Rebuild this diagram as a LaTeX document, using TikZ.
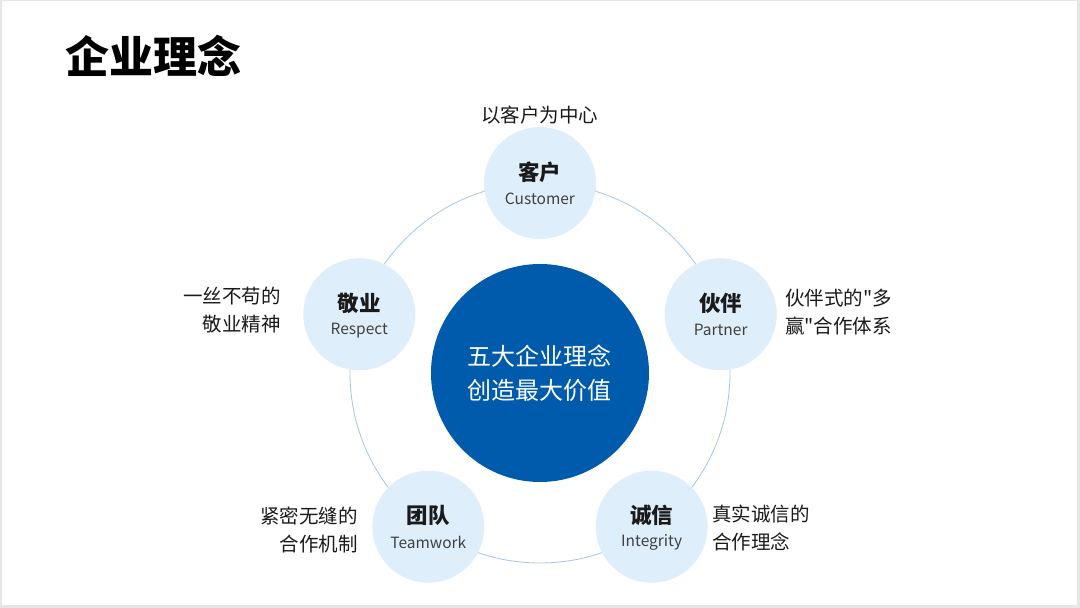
\documentclass[tikz,border=0pt]{standalone}
\usepackage{fontspec}
\setmainfont{Noto Sans CJK SC}[Ligatures=TeXOff]
\usetikzlibrary{positioning}
\definecolor{frame}{HTML}{E6E6E6}
\definecolor{core}{HTML}{005BAC}
\definecolor{petal}{HTML}{DEEEFB}
\definecolor{ring}{HTML}{A4C6E6}
\definecolor{ink}{HTML}{1A1A1A}
\definecolor{note}{HTML}{404040}

\begin{document}
\begin{tikzpicture}[x=1pt, y=1pt,
  line join=round,
  % 中心圆与五个理念圆
  corebox/.style={circle, fill=core, minimum size=218pt, inner sep=0pt,
    text=white, align=center, font=\fontsize{24}{34}\selectfont},
  petalbox/.style={circle, fill=petal, minimum size=112pt, inner sep=0pt},
  cnlbl/.style={font=\fontsize{21.5}{21.5}\selectfont\bfseries, text=ink, inner sep=0pt},
  enlbl/.style={font=\fontsize{15.5}{15.5}\selectfont, text=note, inner sep=0pt},
  % 圆外的说明文字
  memo/.style={font=\fontsize{19.5}{28}\selectfont, text=ink, inner sep=0pt},
]
\def\Rr{190}   % 外环半径

% --- 页面与灰色边框
\useasboundingbox (-540,-235) rectangle (540,373);
\fill[frame] (-540,-235) rectangle (540,373);
\fill[white] (-538,-232) rectangle (537,372);

% --- 标题
\node[anchor=west, font=\fontsize{44}{44}\selectfont\bfseries, text=black, inner sep=0pt]
  (title) at (-475,317) {企业理念};

% --- 外环
\draw[ring, line width=0.8pt] (0,0) circle (\Rr);

% --- 中心圆
\node[corebox] (core) at (0,0) {五大企业理念\\创造最大价值};

% --- 五个理念圆（正五边形顶点）
\foreach \n/\a/\c/\e in {kehu/90/客户/Customer, huoban/18/伙伴/Partner,
    chengxin/-54/诚信/Integrity, tuandui/-126/团队/Teamwork, jingye/162/敬业/Respect} {
  \node[petalbox] (\n) at (\a:\Rr) {};
  \node[cnlbl, yshift=11pt] (\n-cn) at (\a:\Rr) {\c};
  \node[enlbl, yshift=-16pt] (\n-en) at (\a:\Rr) {\e};
}

% --- 说明文字
\node[memo, above=2pt of kehu] (kehu-memo) {以客户为中心};
\node[memo, align=right, left=22pt of jingye, yshift=4pt] (jingye-memo) {一丝不苟的\\敬业精神};
\node[memo, align=left, right=8pt of huoban, yshift=2pt] (huoban-memo)
  {伙伴式的"多\\赢"合作体系};
\node[memo, align=right, left=14pt of tuandui, yshift=-3pt] (tuandui-memo) {紧密无缝的\\合作机制};
\node[memo, align=left, right=4pt of chengxin, yshift=-1pt] (chengxin-memo) {真实诚信的\\合作理念};
\end{tikzpicture}
\end{document}
